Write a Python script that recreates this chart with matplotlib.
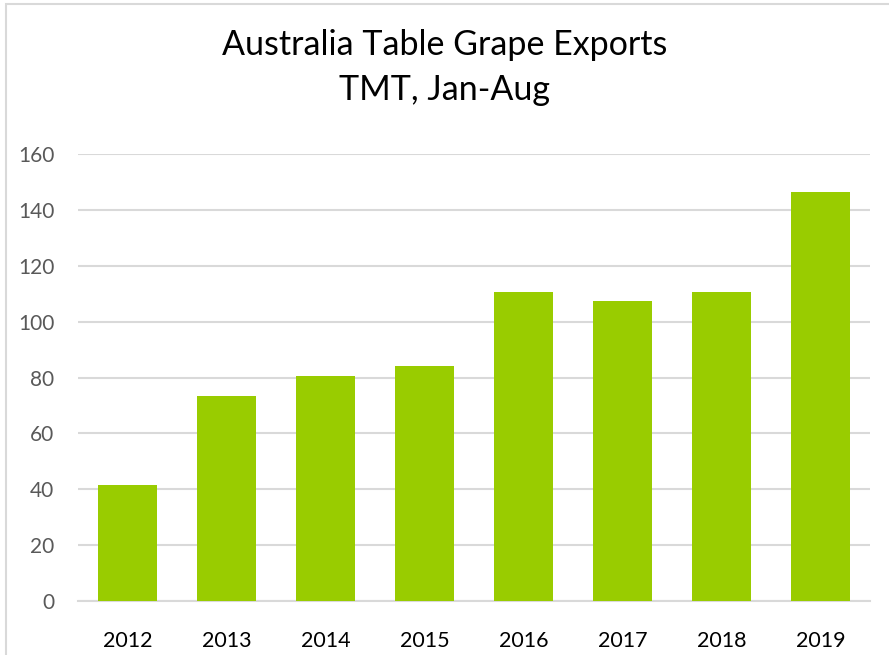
import matplotlib
matplotlib.use("Agg")
import matplotlib.pyplot as plt
from matplotlib.patches import Rectangle

years = ["2012", "2013", "2014", "2015", "2016", "2017", "2018", "2019"]
exports = [41.3, 73.2, 80.4, 84.3, 110.5, 107.3, 110.5, 146.4]
yticks = [0, 20, 40, 60, 80, 100, 120, 140, 160]

plt.rcParams['font.family'] = ['Lato', 'DejaVu Sans']

W, H = 889, 655
fig = plt.figure(figsize=(W/100, H/100), dpi=100)
ax = fig.add_axes([78/W, 1 - 600.7/H, (870-78)/W, (600.7-154.3)/H])

x = range(len(years))
ax.bar(x, exports, width=0.586, color="#99CC00", zorder=3)
ax.set_xlim(-0.5, len(years) - 0.5)
ax.set_ylim(0, 160)
ax.set_yticks(yticks)
ax.set_xticks(list(x))
ax.set_xticklabels(years)
ax.grid(axis='y', color='#D9D9D9', linewidth=1.5, zorder=0)
for s in ['top', 'right', 'left']:
    ax.spines[s].set_visible(False)
ax.spines['bottom'].set_color('#D9D9D9')
ax.spines['bottom'].set_linewidth(1.5)
ax.tick_params(axis='both', length=0)
ax.tick_params(axis='y', labelsize=15, labelcolor='#595959', pad=17)
ax.tick_params(axis='x', labelsize=15.5, labelcolor='#000000', pad=22)

fig.text(0.5, 1 - 45/H, "Australia Table Grape Exports", ha='center', va='center', fontsize=24.5, color='#000000')
fig.text(0.5, 1 - 90/H, "TMT, Jan-Aug", ha='center', va='center', fontsize=24.5, color='#000000')

fig.patches.append(Rectangle((6/W, -0.1), 1.2, 1 - 4/H + 0.1, transform=fig.transFigure,
                             fill=False, edgecolor='#D9D9D9', linewidth=1.5))

fig.savefig("out.png", dpi=100)
